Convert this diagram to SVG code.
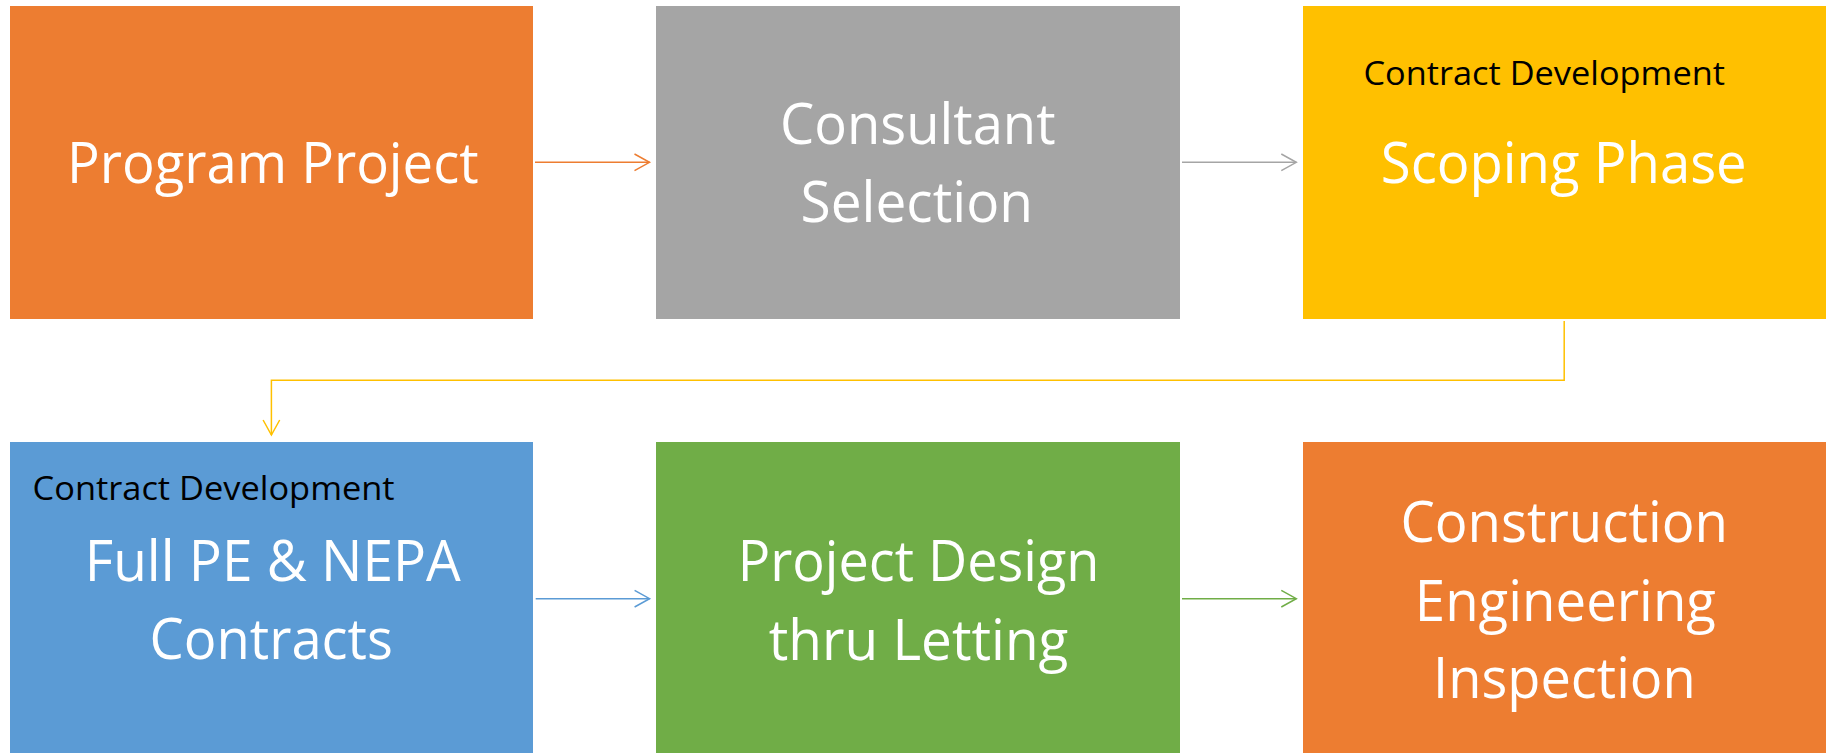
<svg xmlns="http://www.w3.org/2000/svg" width="1833" height="753" viewBox="0 0 1833 753">
  <style>
    .big { font-family: "Open Sans", "Liberation Sans", sans-serif; font-size: 56px; fill: #ffffff; }
    .small { font-family: "Open Sans", "Liberation Sans", sans-serif; font-size: 33.5px; fill: #000000; }
    .conn { fill: none; stroke-width: 1.5; }
  </style>
  <defs>
    <marker id="mOrange" markerUnits="userSpaceOnUse" markerWidth="20" markerHeight="20" viewBox="-16 -10 18 20" refX="0" refY="0" orient="auto">
      <path d="M-15,-8.3 L0,0 L-15,8.3" fill="none" stroke="#ED7D31" stroke-width="1.5"/>
    </marker>
    <marker id="mGray" markerUnits="userSpaceOnUse" markerWidth="20" markerHeight="20" viewBox="-16 -10 18 20" refX="0" refY="0" orient="auto">
      <path d="M-15,-8.3 L0,0 L-15,8.3" fill="none" stroke="#A5A5A5" stroke-width="1.5"/>
    </marker>
    <marker id="mYellow" markerUnits="userSpaceOnUse" markerWidth="20" markerHeight="20" viewBox="-16 -10 18 20" refX="0" refY="0" orient="auto">
      <path d="M-15,-8.3 L0,0 L-15,8.3" fill="none" stroke="#FFC000" stroke-width="1.5"/>
    </marker>
    <marker id="mBlue" markerUnits="userSpaceOnUse" markerWidth="20" markerHeight="20" viewBox="-16 -10 18 20" refX="0" refY="0" orient="auto">
      <path d="M-15,-8.3 L0,0 L-15,8.3" fill="none" stroke="#5B9BD5" stroke-width="1.5"/>
    </marker>
    <marker id="mGreen" markerUnits="userSpaceOnUse" markerWidth="20" markerHeight="20" viewBox="-16 -10 18 20" refX="0" refY="0" orient="auto">
      <path d="M-15,-8.3 L0,0 L-15,8.3" fill="none" stroke="#70AD47" stroke-width="1.5"/>
    </marker>
  </defs>
  <rect width="1833" height="753" fill="#ffffff"/>

  <g id="node-program-project">
    <rect x="10" y="6" width="523" height="313" fill="#ED7D31"/>
    <text class="big" x="67" y="183" textLength="411.6" lengthAdjust="spacingAndGlyphs">Program Project</text>
  </g>

  <g id="node-consultant-selection">
    <rect x="656" y="6" width="524" height="313" fill="#A5A5A5"/>
    <text class="big" x="780" y="144" textLength="275.6" lengthAdjust="spacingAndGlyphs">Consultant</text>
    <text class="big" x="800.5" y="222.3" textLength="232.5" lengthAdjust="spacingAndGlyphs">Selection</text>
  </g>

  <g id="node-scoping-phase">
    <rect x="1303" y="6" width="523" height="313" fill="#FFC000"/>
    <text class="small" x="1363.4" y="85" textLength="361.6" lengthAdjust="spacingAndGlyphs">Contract Development</text>
    <text class="big" x="1380.8" y="183.3" textLength="365.9" lengthAdjust="spacingAndGlyphs">Scoping Phase</text>
  </g>

  <g id="node-full-pe-nepa">
    <rect x="10" y="442" width="523" height="311" fill="#5B9BD5"/>
    <text class="small" x="32.6" y="500" textLength="362" lengthAdjust="spacingAndGlyphs">Contract Development</text>
    <text class="big" x="84.8" y="581" textLength="375.9" lengthAdjust="spacingAndGlyphs">Full PE &amp; NEPA</text>
    <text class="big" x="149.6" y="659" textLength="243.3" lengthAdjust="spacingAndGlyphs">Contracts</text>
  </g>

  <g id="node-project-design">
    <rect x="656" y="442" width="524" height="311" fill="#70AD47"/>
    <text class="big" x="737.8" y="581" textLength="361.6" lengthAdjust="spacingAndGlyphs">Project Design</text>
    <text class="big" x="768.8" y="660" textLength="299.6" lengthAdjust="spacingAndGlyphs">thru Letting</text>
  </g>

  <g id="node-construction-engineering">
    <rect x="1303" y="442" width="523" height="311" fill="#ED7D31"/>
    <text class="big" x="1400.4" y="542.3" textLength="327.6" lengthAdjust="spacingAndGlyphs">Construction</text>
    <text class="big" x="1414.8" y="620.7" textLength="301.2" lengthAdjust="spacingAndGlyphs">Engineering</text>
    <text class="big" x="1433" y="698.3" textLength="262.7" lengthAdjust="spacingAndGlyphs">Inspection</text>
  </g>

  <g id="connectors">
    <path class="conn" d="M535,162.3 H649.5" stroke="#ED7D31" marker-end="url(#mOrange)"/>
    <path class="conn" d="M1182,162.3 H1296.3" stroke="#A5A5A5" marker-end="url(#mGray)"/>
    <path class="conn" d="M1564.2,321 V380.3 H271.4 V435" stroke="#FFC000" marker-end="url(#mYellow)"/>
    <path class="conn" d="M535.7,598.7 H649.6" stroke="#5B9BD5" marker-end="url(#mBlue)"/>
    <path class="conn" d="M1182,598.7 H1296.3" stroke="#70AD47" marker-end="url(#mGreen)"/>
  </g>
</svg>
